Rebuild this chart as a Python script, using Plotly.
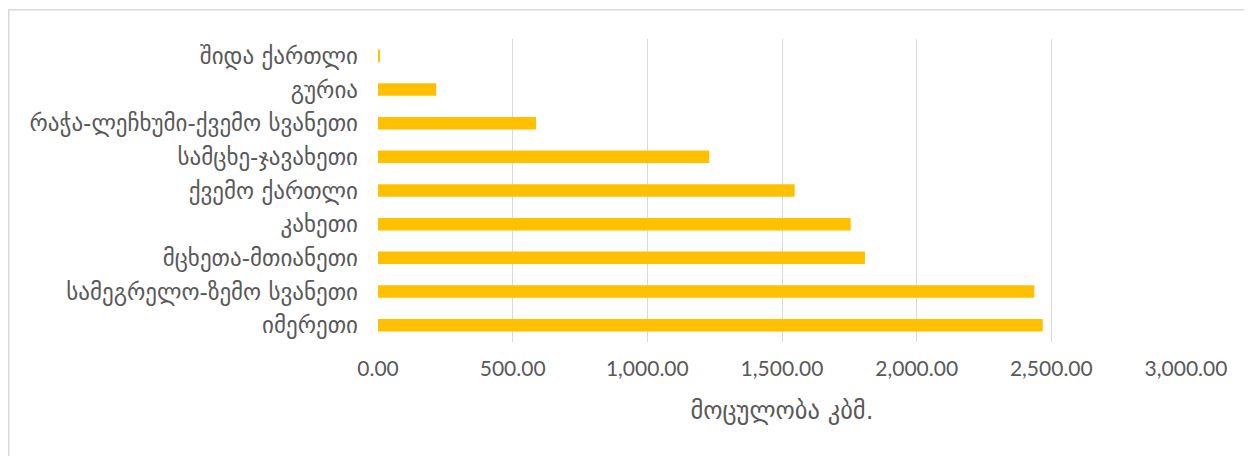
import plotly.graph_objects as go

regions = [
    "შიდა ქართლი",
    "გურია",
    "რაჭა-ლეჩხუმი-ქვემო სვანეთი",
    "სამცხე-ჯავახეთი",
    "ქვემო ქართლი",
    "კახეთი",
    "მცხეთა-მთიანეთი",
    "სამეგრელო-ზემო სვანეთი",
    "იმერეთი",
]
volumes = [7, 216, 587, 1230, 1547, 1755, 1808, 2437, 2468]
tick_values = [0, 500, 1000, 1500, 2000, 2500, 3000]
tick_labels = ["0.00", "500.00", "1,000.00", "1,500.00", "2,000.00", "2,500.00", "3,000.00"]
x_title = "მოცულობა კბმ."

W, H = 1244, 448
L, R, T, B = 370, 66, 31, 114
PW, PH = W - L - R, H - T - B

fig = go.Figure(
    go.Bar(
        x=volumes,
        y=regions,
        orientation="h",
        marker=dict(color="#FFC000", line=dict(width=0)),
        hoverinfo="x+y",
    )
)

fig.update_layout(
    width=W,
    height=H,
    margin=dict(l=L, r=R, t=T, b=B, autoexpand=False),
    paper_bgcolor="white",
    plot_bgcolor="white",
    bargap=0.63,
    showlegend=False,
    font=dict(family="Lato, DejaVu Sans, sans-serif", color="#595959"),
    shapes=[
        dict(
            type="rect", xref="paper", yref="paper",
            x0=(0.75 - L) / PW, x1=1 + (R + 40) / PW,
            y0=-0.5, y1=1 + (T - 1.75) / PH,
            line=dict(color="#D9D9D9", width=1.5), fillcolor="rgba(0,0,0,0)",
            layer="below",
        )
    ],
)

fig.update_xaxes(
    range=[0, 3000],
    tickvals=tick_values,
    ticktext=tick_labels,
    showgrid=True,
    gridcolor="#D9D9D9",
    gridwidth=1.3,
    zeroline=False,
    showline=False,
    tickfont=dict(size=21, family="Lato, sans-serif", color="#595959"),
    ticks="",
    ticklabelstandoff=12,
    title=dict(text=x_title, font=dict(size=24.5, family="DejaVu Sans", color="#595959"), standoff=22),
    fixedrange=True,
)

fig.update_yaxes(
    autorange="reversed",
    showgrid=False,
    showline=False,
    ticks="",
    ticklabelstandoff=19,
    tickfont=dict(size=23, family="DejaVu Sans", color="#595959"),
    fixedrange=True,
)

fig.write_html("out.html")
